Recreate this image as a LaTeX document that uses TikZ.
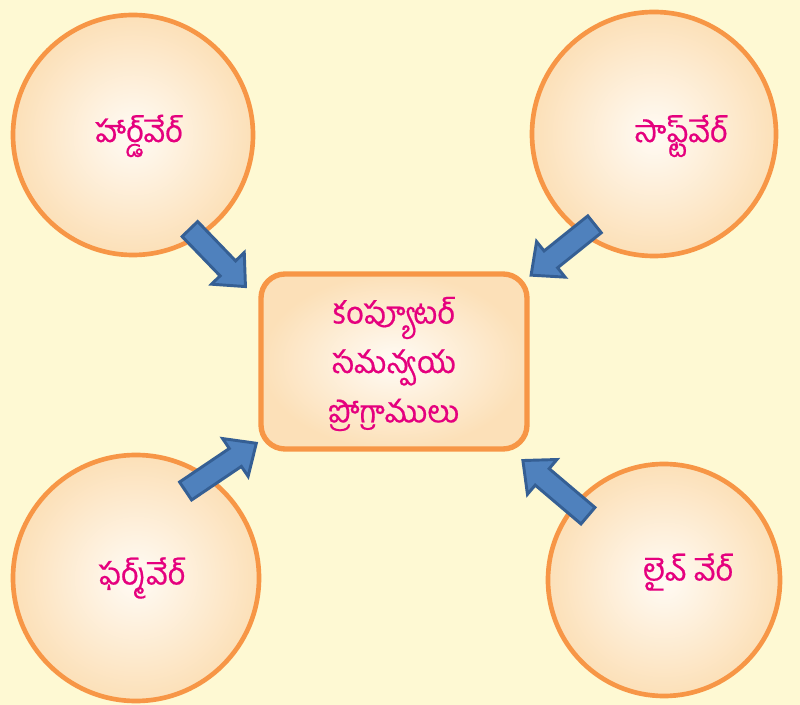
\documentclass[tikz,border=0pt]{standalone}
\usepackage{fontspec}
\newfontfamily\te[Script=Telugu, FakeBold=0.6]{Hind Guntur}
\usetikzlibrary{shapes.arrows}
\definecolor{bg}{HTML}{FEF9D3}
\definecolor{ring}{HTML}{F79646}
\definecolor{inner}{HTML}{FFFBF5}
\definecolor{outer}{HTML}{FCE0B8}
\definecolor{txt}{HTML}{E5007E}
\definecolor{arrfill}{HTML}{4F81BD}
\definecolor{arrline}{HTML}{355F94}
\tikzset{
  bubble/.style={circle, draw=ring, line width=3.5pt, inner color=inner, outer color=outer},
  centerbox/.style={draw=ring, line width=4pt, rounded corners=18pt, inner color=inner, outer color=outer},
  lbl/.style={text=txt, font=\te\fontsize{23}{37}\selectfont, align=center},
  blockarrow/.style={single arrow, draw=arrline, fill=arrfill, line width=2.2pt,
    inner sep=7pt, single arrow head extend=9pt, single arrow tip angle=84, anchor=center}
}
\begin{document}
\begin{tikzpicture}[x=0.75pt,y=-0.75pt]
\path[fill=bg] (0,0) rectangle (800,705);
\useasboundingbox (0,0) rectangle (800,705);
% circles
\path[bubble] (133,135) circle (120) coordinate (hw);
\path[bubble] (654,134) circle (122) coordinate (sw);
\path[bubble] (136,578) circle (123) coordinate (fw);
\path[bubble] (664,580) circle (116) coordinate (lw);
% centre box
\path[centerbox] (261,274) rectangle (527,449);
\node[lbl] (c) at (394,364) {కంప్యూటర్\\సమన్వయ\\ప్రోగ్రాములు};
% labels
\node[lbl] (l1) at (139,136) {హార్డ్‌వేర్};
\node[lbl] (l2) at (681,136) {సాఫ్ట్‌వేర్};
\node[lbl] (l3) at (142,578) {ఫర్మ్‌వేర్};
\node[lbl] (l4) at (688,572) {లైవ్ వేర్};
% arrows
\node[blockarrow, minimum height=60pt, rotate=-46] (a1) at (213.5,253.5) {};
\node[blockarrow, minimum height=61pt, rotate=-141.3] (a2) at (567.5,246) {};
\node[blockarrow, minimum height=64pt, rotate=34] (a3) at (216,470.5) {};
\node[blockarrow, minimum height=64pt, rotate=139.7] (a4) at (560,492) {};
\end{tikzpicture}
\end{document}
